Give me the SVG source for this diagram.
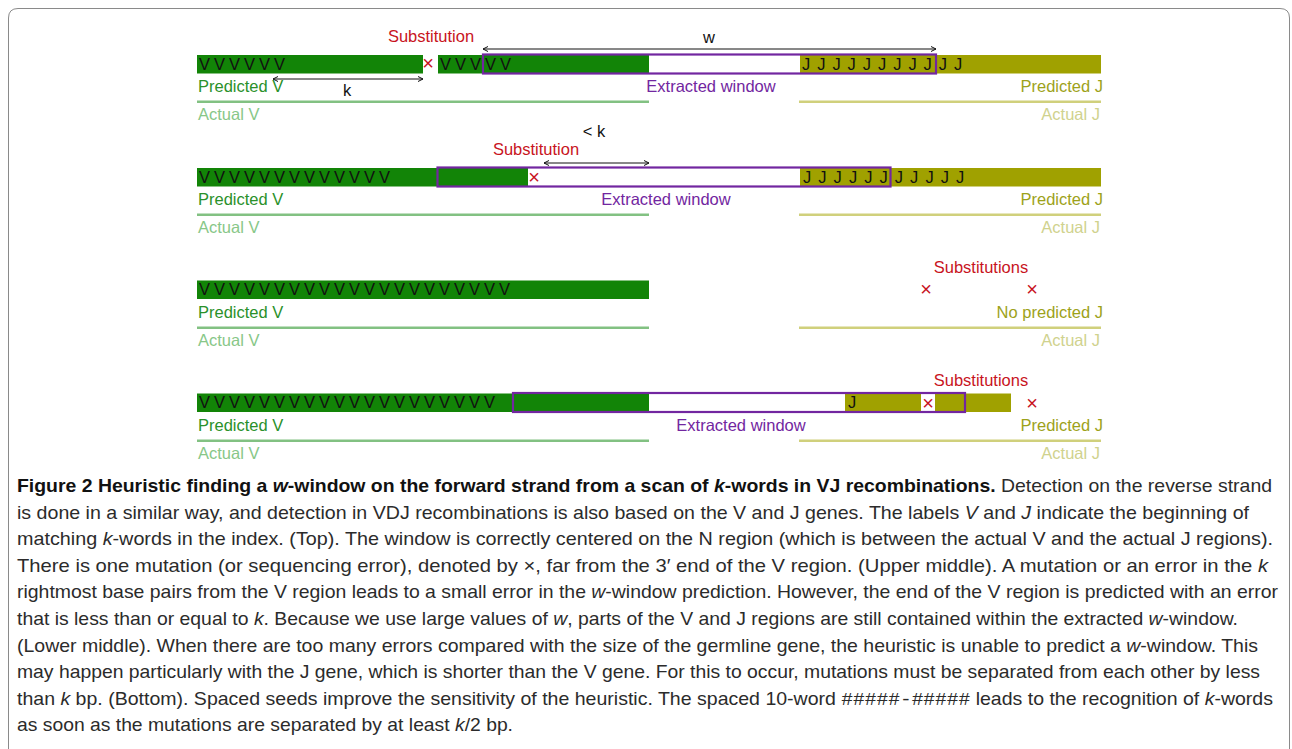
<svg xmlns="http://www.w3.org/2000/svg" width="1292" height="749" viewBox="0 0 1292 749">
<style>
  .lbl{font-family:"Liberation Sans",Arial,sans-serif;font-size:16.5px}
  .seq{font-family:"Liberation Sans",Arial,sans-serif;font-size:16.5px;fill:#111}
  .vbar{fill:#128407}
  .jbar{fill:#a0a100}
  .win{fill:none;stroke:#7226a0;stroke-width:2.2}
  .pv{fill:#2a912a}
  .av{fill:#88c788}
  .pj{fill:#9da21a}
  .aj{fill:#d0d28e}
  .lv{stroke:#82c182;stroke-width:2.4}
  .lj{stroke:#d0d07c;stroke-width:2.4}
  .ew{fill:#7226a0}
  .red{fill:#c8141e}
  .x{font-family:"Liberation Sans",Arial,sans-serif;font-size:20px;fill:#c8141e}
  .arr{stroke:#111;stroke-width:1;fill:none;marker-start:url(#ah);marker-end:url(#ah)}
  .blk{fill:#111}
  .cap{font-family:"Liberation Sans",Arial,sans-serif;font-size:19px;fill:#2b2b2b}
  .b{font-weight:bold;fill:#111}
  .i{font-style:italic}
  .m{font-family:"Liberation Mono",monospace}
</style>
<defs>
  <marker id="ah" viewBox="0 0 6 6" refX="5.5" refY="3" markerWidth="6" markerHeight="6" markerUnits="userSpaceOnUse" orient="auto-start-reverse">
    <path d="M0.5,0.5 L5.5,3 L0.5,5.5" fill="none" stroke="#111" stroke-width="1"/>
  </marker>
</defs>
<rect width="1292" height="749" fill="#fff"/>
<path d="M8.5,749 V18 Q8.5,8.5 18,8.5 H1280 Q1289.5,8.5 1289.5,18 V749" fill="none" stroke="#8a8a8a" stroke-width="1"/>

<g id="panel-top">
  <rect class="vbar" x="197" y="55" width="226" height="18.5"/>
  <rect class="vbar" x="438" y="55" width="211" height="18.5"/>
  <rect class="jbar" x="800" y="55" width="301" height="18.5"/>
  <rect class="win" x="483" y="54.5" width="453" height="19"/>
  <text class="seq" x="199 214 229 244 259 274" y="69.5">VVVVVV</text>
  <text class="seq" x="440 455 470 485 500" y="69.5">VVVVV</text>
  <text class="seq" x="802 817.2 832.4 847.6 862.8 878 893.2 908.4 923.6 938.8 954" y="69.5">JJJJJJJJJJJ</text>
  <text class="x" x="428" y="70" text-anchor="middle">×</text>
  <text class="lbl red" x="431" y="42" text-anchor="middle">Substitution</text>
  <text class="lbl blk" x="709" y="43" text-anchor="middle">w</text>
  <text class="lbl blk" x="347" y="96" text-anchor="middle">k</text>
  <text class="lbl pv" x="198" y="92">Predicted V</text>
  <text class="lbl ew" x="711" y="92" text-anchor="middle">Extracted window</text>
  <text class="lbl pj" x="1103" y="92" text-anchor="end">Predicted J</text>
  <line class="lv" x1="197" y1="101.7" x2="649" y2="101.7"/>
  <line class="lj" x1="799" y1="101.7" x2="1101" y2="101.7"/>
  <text class="lbl av" x="198" y="120">Actual V</text>
  <text class="lbl aj" x="1100" y="120" text-anchor="end">Actual J</text>
</g>

<g id="panel-upper-middle">
  <rect class="vbar" x="197" y="168" width="331" height="18.5"/>
  <rect class="jbar" x="800" y="168" width="301" height="18.5"/>
  <rect class="win" x="437.5" y="167.5" width="453" height="19"/>
  <text class="seq" x="199 214 229 244 259 274 289 304 319 334 349 364 379" y="182.5">VVVVVVVVVVVVV</text>
  <text class="seq" x="803 818.3 833.6 848.9 864.2 879.5 894.8 910.1 925.4 940.7 956" y="182.5">JJJJJJJJJJJ</text>
  <text class="x" x="534" y="184" text-anchor="middle">×</text>
  <text class="lbl red" x="536" y="155" text-anchor="middle">Substitution</text>
  <text class="lbl blk" x="594" y="137" text-anchor="middle">&lt; k</text>
  <text class="lbl pv" x="198" y="205">Predicted V</text>
  <text class="lbl ew" x="666" y="205" text-anchor="middle">Extracted window</text>
  <text class="lbl pj" x="1103" y="205" text-anchor="end">Predicted J</text>
  <line class="lv" x1="197" y1="214.7" x2="649" y2="214.7"/>
  <line class="lj" x1="799" y1="214.7" x2="1101" y2="214.7"/>
  <text class="lbl av" x="198" y="233">Actual V</text>
  <text class="lbl aj" x="1100" y="233" text-anchor="end">Actual J</text>
</g>

<g id="panel-lower-middle">
  <rect class="vbar" x="197" y="280.5" width="452" height="18.5"/>
  <text class="seq" x="199 214 229 244 259 274 289 304 319 334 349 364 379 394 409 424 439 454 469 484 499" y="295">VVVVVVVVVVVVVVVVVVVVV</text>
  <text class="lbl red" x="981" y="273" text-anchor="middle">Substitutions</text>
  <text class="x" x="926" y="296" text-anchor="middle">×</text>
  <text class="x" x="1032" y="296" text-anchor="middle">×</text>
  <text class="lbl pv" x="198" y="318">Predicted V</text>
  <text class="lbl pj" x="1103" y="318" text-anchor="end">No predicted J</text>
  <line class="lv" x1="197" y1="327.7" x2="649" y2="327.7"/>
  <line class="lj" x1="799" y1="327.7" x2="1101" y2="327.7"/>
  <text class="lbl av" x="198" y="346">Actual V</text>
  <text class="lbl aj" x="1100" y="346" text-anchor="end">Actual J</text>
</g>

<g id="panel-bottom">
  <rect class="vbar" x="197" y="393.5" width="452" height="18.5"/>
  <rect class="jbar" x="845" y="393.5" width="166" height="18.5"/>
  <rect x="921" y="393.5" width="14" height="18.5" fill="#fff"/>
  <rect class="win" x="513" y="393" width="452" height="19"/>
  <text class="seq" x="199 214 229 244 259 274 289 304 319 334 349 364 379 394 409 424 439 454 469 484" y="408">VVVVVVVVVVVVVVVVVVVV</text>
  <text class="seq" x="848" y="408">J</text>
  <text class="lbl red" x="981" y="386" text-anchor="middle">Substitutions</text>
  <text class="x" x="928" y="410" text-anchor="middle">×</text>
  <text class="x" x="1032" y="410" text-anchor="middle">×</text>
  <text class="lbl pv" x="198" y="431">Predicted V</text>
  <text class="lbl ew" x="741" y="431" text-anchor="middle">Extracted window</text>
  <text class="lbl pj" x="1103" y="431" text-anchor="end">Predicted J</text>
  <line class="lv" x1="197" y1="440.7" x2="649" y2="440.7"/>
  <line class="lj" x1="799" y1="440.7" x2="1101" y2="440.7"/>
  <text class="lbl av" x="198" y="459">Actual V</text>
  <text class="lbl aj" x="1100" y="459" text-anchor="end">Actual J</text>
</g>

<g id="connectors">
  <line class="arr" x1="483" y1="49" x2="936" y2="49"/>
  <line class="arr" x1="273" y1="79" x2="423" y2="79"/>
  <line class="arr" x1="544" y1="163" x2="649" y2="163"/>
</g>

<g id="caption">
  <text class="cap" x="17" y="492" textLength="1255" lengthAdjust="spacingAndGlyphs"><tspan class="b">Figure 2 Heuristic finding a <tspan class="i">w</tspan>-window on the forward strand from a scan of <tspan class="i">k</tspan>-words in VJ recombinations.</tspan> Detection on the reverse strand</text>
  <text class="cap" x="17" y="518.6" textLength="1232" lengthAdjust="spacingAndGlyphs">is done in a similar way, and detection in VDJ recombinations is also based on the V and J genes. The labels <tspan class="i">V</tspan> and <tspan class="i">J</tspan> indicate the beginning of</text>
  <text class="cap" x="17" y="545.2" textLength="1256" lengthAdjust="spacingAndGlyphs">matching <tspan class="i">k</tspan>-words in the index. (Top). The window is correctly centered on the N region (which is between the actual V and the actual J regions).</text>
  <text class="cap" x="17" y="571.8" textLength="1251" lengthAdjust="spacingAndGlyphs">There is one mutation (or sequencing error), denoted by ×, far from the 3′ end of the V region. (Upper middle). A mutation or an error in the <tspan class="i">k</tspan></text>
  <text class="cap" x="17" y="598.4" textLength="1261" lengthAdjust="spacingAndGlyphs">rightmost base pairs from the V region leads to a small error in the <tspan class="i">w</tspan>-window prediction. However, the end of the V region is predicted with an error</text>
  <text class="cap" x="17" y="625" textLength="1221" lengthAdjust="spacingAndGlyphs">that is less than or equal to <tspan class="i">k</tspan>. Because we use large values of <tspan class="i">w</tspan>, parts of the V and J regions are still contained within the extracted <tspan class="i">w</tspan>-window.</text>
  <text class="cap" x="17" y="651.6" textLength="1241" lengthAdjust="spacingAndGlyphs">(Lower middle). When there are too many errors compared with the size of the germline gene, the heuristic is unable to predict a <tspan class="i">w</tspan>-window. This</text>
  <text class="cap" x="17" y="678.2" textLength="1243" lengthAdjust="spacingAndGlyphs">may happen particularly with the J gene, which is shorter than the V gene. For this to occur, mutations must be separated from each other by less</text>
  <text class="cap" x="17" y="704.8" textLength="1256" lengthAdjust="spacingAndGlyphs">than <tspan class="i">k</tspan> bp. (Bottom). Spaced seeds improve the sensitivity of the heuristic. The spaced 10-word <tspan class="m">#####-#####</tspan> leads to the recognition of <tspan class="i">k</tspan>-words</text>
  <text class="cap" x="17" y="731.4" textLength="496" lengthAdjust="spacingAndGlyphs">as soon as the mutations are separated by at least <tspan class="i">k</tspan>/2 bp.</text>
</g>
</svg>
